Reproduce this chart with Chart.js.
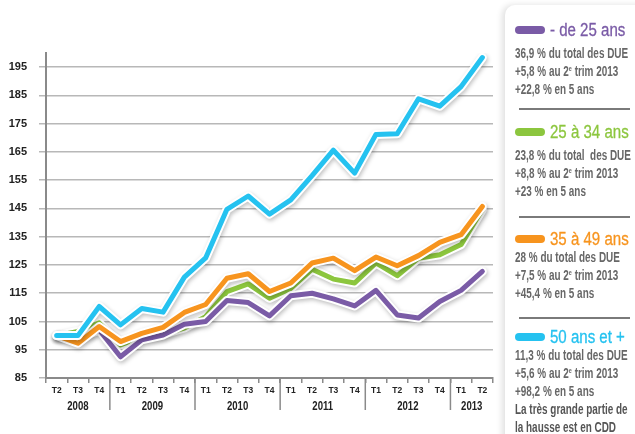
<!DOCTYPE html>
<html>
<head>
<meta charset="utf-8">
<script src="https://cdn.jsdelivr.net/npm/chart.js@4/dist/chart.umd.min.js"></script>
<style>
    body { margin: 0; background: #fff; width: 635px; height: 434px; overflow: hidden; position: relative;
           font-family: "Liberation Sans", Arial, sans-serif; }
    #wrap { position: absolute; left: 0; top: 0; width: 505px; height: 434px; }
    #panel { position: absolute; left: 505px; top: 5px; width: 150px; height: 450px; background: #fff;
             border-radius: 10px; box-shadow: -3px 0 6px rgba(0,0,0,0.12); }
    .pill { position: absolute; left: 515px; width: 30px; height: 8px; border-radius: 4px; }
    .title { position: absolute; left: 550px; height: 22px; line-height: 22px; font-size: 17.5px; white-space: nowrap;
             transform: scaleX(0.86); transform-origin: 0 0; -webkit-text-stroke: 0.3px; }
    .body { position: absolute; left: 515px; font-size: 14.5px; line-height: 18px; color: #676767;
            font-weight: bold; white-space: nowrap; transform: scaleX(0.685); transform-origin: 0 0; }
    .body sup { font-size: 8px; vertical-align: 5px; line-height: 0; }
    .sep { position: absolute; left: 519px; width: 111px; height: 2px; background: #7a7a7a; }
</style>
</head>
<body>
<div id="wrap"><canvas id="chart" width="505" height="434"></canvas></div>
<div id="panel"></div>

<div class="pill" style="top:26px;background:#7a5ba6"></div>
<div class="title" style="top:19px;color:#7a5ba6">- de 25 ans</div>
<div class="body" style="top:44px">36,9 % du total des DUE<br>+5,8 % au 2<sup>e</sup> trim 2013<br>+22,8 % en 5 ans</div>
<div class="sep" style="top:108px"></div>

<div class="pill" style="top:128px;background:#8cc63e"></div>
<div class="title" style="top:121px;color:#8cc63e">25 à 34 ans</div>
<div class="body" style="top:146px">23,8 % du total&nbsp; des DUE<br>+8,8 % au 2<sup>e</sup> trim 2013<br>+23 % en 5 ans</div>
<div class="sep" style="top:216px"></div>

<div class="pill" style="top:235px;background:#f7941e"></div>
<div class="title" style="top:228px;color:#f7941e">35 à 49 ans</div>
<div class="body" style="top:248px">28 % du total des DUE<br>+7,5 % au 2<sup>e</sup> trim 2013<br>+45,4 % en 5 ans</div>
<div class="sep" style="top:317px"></div>

<div class="pill" style="top:333px;background:#25c2f0"></div>
<div class="title" style="top:326px;color:#25c2f0">50 ans et +</div>
<div class="body" style="top:346px">11,3 % du total des DUE<br>+5,6 % au 2<sup>e</sup> trim 2013<br>+98,2 % en 5 ans<br><span style="color:#555">La très grande partie de<br>la hausse est en CDD</span></div>

<script>
// quarters and the year each one belongs to
const quarters = ["T2","T3","T4","T1","T2","T3","T4","T1","T2","T3","T4","T1","T2","T3","T4","T1","T2","T3","T4","T1","T2"];
const quarterYears = ["2008","2008","2008","2009","2009","2009","2009","2010","2010","2010","2010",
    "2011","2011","2011","2011","2012","2012","2012","2012","2013","2013"];

// index values (base 100 at T2 2008)
const moins25 = [100, 99, 102, 92.5, 98.5, 100.2, 104, 105, 112.4, 111.7, 107, 114.1, 115, 113, 110.5, 116, 107.3, 106.2, 112.1, 116, 122.7];
const de25a34 = [100, 101.5, 104.5, 96.7, 99.5, 100.5, 102.7, 106.7, 115.6, 118.3, 113.2, 116.7, 123.5, 120, 118.6, 125.7, 121.2, 127.4, 128.6, 132.2, 144.6];
const de35a49 = [100, 97.3, 103.2, 97.9, 100.8, 102.9, 108.2, 111, 120.3, 121.9, 115.6, 118.6, 125.7, 127.4, 123, 127.8, 124.7, 128.3, 133, 135.7, 145.7];
const plus50 = [100, 100, 110.3, 103.8, 109.6, 108.3, 120.7, 127.5, 144.7, 149.4, 143, 148, 156.6, 165.6, 157.5, 171.2, 171.4, 183.8, 181.2, 188.1, 198.4];

const yTicks = [85, 95, 105, 115, 125, 135, 145, 155, 165, 175, 185, 195];

const FONT = '"Liberation Sans", Arial, sans-serif';

function series(label, data, color, order) {
    const common = { data: data, pointRadius: 0, tension: 0, borderJoinStyle: "round", borderCapStyle: "round", fill: false };
    return [
        Object.assign({ label: label + " halo", borderColor: "#ffffff", borderWidth: 9, order: order + 1, halo: true }, common),
        Object.assign({ label: label, borderColor: color, borderWidth: 5, order: order }, common)
    ];
}

// soft shadow under the white outline of each line
const shadowPlugin = {
    id: "shadow",
    beforeDatasetDraw(chart, args) {
        if (chart.data.datasets[args.index].halo) {
            const c = chart.ctx;
            c.save();
            c.shadowColor = "rgba(0,0,0,0.25)";
            c.shadowBlur = 4;
            c.shadowOffsetX = 1;
            c.shadowOffsetY = 2;
        }
    },
    afterDatasetDraw(chart, args) {
        if (chart.data.datasets[args.index].halo) chart.ctx.restore();
    }
};

// year row under the quarter labels
const yearPlugin = {
    id: "years",
    afterDraw(chart) {
        const c = chart.ctx;
        const x = chart.scales.x;
        const bottom = chart.chartArea.bottom;
        c.save();
        c.font = "bold 12px " + FONT;
        c.fillStyle = "#222";
        c.textAlign = "center";
        c.textBaseline = "middle";
        c.strokeStyle = "#8a8a8a";
        c.lineWidth = 1.5;
        let start = 0;
        for (let i = 1; i <= quarterYears.length; i++) {
            if (i === quarterYears.length || quarterYears[i] !== quarterYears[start]) {
                const mid = (x.getPixelForValue(start) + x.getPixelForValue(i - 1)) / 2;
                c.save();
                c.translate(mid, bottom + 29);
                c.scale(0.8, 1);
                c.fillText(quarterYears[start], 0, 0);
                c.restore();
                if (i < quarterYears.length) {
                    const sx = (x.getPixelForValue(i - 1) + x.getPixelForValue(i)) / 2;
                    c.beginPath();
                    c.moveTo(sx, bottom);
                    c.lineTo(sx, bottom + 32);
                    c.stroke();
                }
                start = i;
            }
        }
        c.restore();
    }
};

new Chart(document.getElementById("chart"), {
    type: "line",
    data: {
        labels: quarters,
        datasets: [].concat(
            series("50 ans et +", plus50, "#25c2f0", 0),
            series("35 à 49 ans", de35a49, "#f7941e", 2),
            series("- de 25 ans", moins25, "#7a5ba6", 4),
            series("25 à 34 ans", de25a34, "#8cc63e", 6)
        )
    },
    options: {
        responsive: false,
        animation: false,
        layout: { padding: { top: 53, right: 12, left: 0, bottom: 0 } },
        plugins: { legend: { display: false }, tooltip: { enabled: false } },
        scales: {
            x: {
                type: "category",
                offset: true,
                grid: { drawOnChartArea: false, tickLength: 5, color: "#8a8a8a", lineWidth: 1.5, offset: true },
                border: { color: "#8a8a8a", width: 2 },
                ticks: { font: { family: FONT, size: 8.5, weight: "bold" }, color: "#222", padding: 3, maxRotation: 0, autoSkip: false },
                afterFit(s) { s.height = 56; }
            },
            y: {
                min: 85,
                max: 200,
                afterBuildTicks(axis) { axis.ticks = yTicks.map(v => ({ value: v })); },
                grid: { color: "#b8b8b8", lineWidth: 1.5, tickLength: 7 },
                border: { color: "#8a8a8a", width: 2 },
                ticks: { font: { family: FONT, size: 11, weight: "bold" }, color: "#222", padding: 12 },
                afterFit(s) { s.width = 46; }
            }
        }
    },
    plugins: [shadowPlugin, yearPlugin]
});
</script>
</body>
</html>
